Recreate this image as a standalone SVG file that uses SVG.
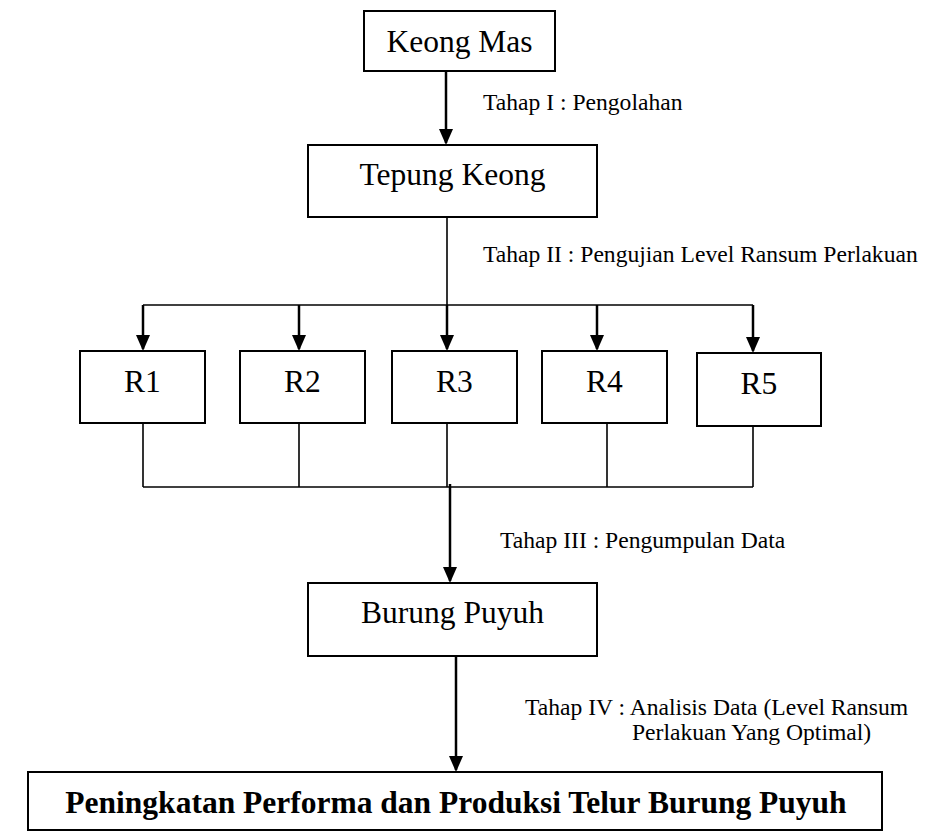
<svg xmlns="http://www.w3.org/2000/svg" width="928" height="832" viewBox="0 0 928 832">
<style>
  .box { fill: #fff; stroke: #000; stroke-width: 2; }
  .node { font-family: "Liberation Serif", "Times New Roman", serif; font-size: 31.5px; fill: #000; text-anchor: middle; }
  .bold { font-weight: bold; }
  .lbl { font-family: "Liberation Serif", "Times New Roman", serif; font-size: 23.6px; fill: #000; }
  .arr { stroke: #000; stroke-width: 2.5; fill: none; marker-end: url(#ah); }
  .ln { stroke: #000; stroke-width: 1.6; fill: none; }
</style>
<defs>
  <marker id="ah" markerUnits="userSpaceOnUse" viewBox="0 0 16 14" refX="14" refY="7" markerWidth="16" markerHeight="14" orient="auto">
    <path d="M0,0 L16,7 L0,14 z" fill="#000"/>
  </marker>
</defs>
<rect width="928" height="832" fill="#fff"/>

<g id="connectors">
  <line class="arr" x1="446" y1="71" x2="446" y2="143"/>
  <line class="ln" x1="447" y1="217" x2="447" y2="305"/>
  <line class="ln" x1="143" y1="305" x2="753" y2="305"/>
  <line class="arr" x1="143" y1="305" x2="143" y2="349"/>
  <line class="arr" x1="299" y1="305" x2="299" y2="349"/>
  <line class="arr" x1="447" y1="305" x2="447" y2="349"/>
  <line class="arr" x1="597" y1="305" x2="597" y2="349"/>
  <line class="arr" x1="753" y1="305" x2="753" y2="351"/>
  <line class="ln" x1="143" y1="423" x2="143" y2="487"/>
  <line class="ln" x1="299" y1="423" x2="299" y2="487"/>
  <line class="ln" x1="447" y1="423" x2="447" y2="487"/>
  <line class="ln" x1="607" y1="423" x2="607" y2="487"/>
  <line class="ln" x1="753" y1="426" x2="753" y2="487"/>
  <line class="ln" x1="143" y1="487" x2="753" y2="487"/>
  <line class="arr" x1="450" y1="484" x2="450" y2="581"/>
  <line class="arr" x1="456" y1="656" x2="456" y2="770"/>
</g>

<g id="label-tahap1"><text class="lbl" x="483" y="110">Tahap I : Pengolahan</text></g>
<g id="label-tahap2"><text class="lbl" x="483" y="262">Tahap II : Pengujian Level Ransum Perlakuan</text></g>
<g id="label-tahap3"><text class="lbl" x="500" y="548">Tahap III : Pengumpulan Data</text></g>
<g id="label-tahap4">
  <text class="lbl" x="525" y="715">Tahap IV : Analisis Data (Level Ransum</text>
  <text class="lbl" x="632" y="740">Perlakuan Yang Optimal)</text>
</g>

<g id="keong-mas">
  <rect class="box" x="364" y="11" width="191" height="60"/>
  <text class="node" x="459.5" y="52">Keong Mas</text>
</g>
<g id="tepung-keong">
  <rect class="box" x="308" y="145" width="289" height="72"/>
  <text class="node" x="452.5" y="185">Tepung Keong</text>
</g>
<g id="r1">
  <rect class="box" x="80" y="351" width="125" height="72"/>
  <text class="node" x="142.5" y="392">R1</text>
</g>
<g id="r2">
  <rect class="box" x="240" y="351" width="125" height="72"/>
  <text class="node" x="302.5" y="392">R2</text>
</g>
<g id="r3">
  <rect class="box" x="392" y="351" width="125" height="72"/>
  <text class="node" x="454.5" y="392">R3</text>
</g>
<g id="r4">
  <rect class="box" x="542" y="351" width="125" height="72"/>
  <text class="node" x="604.5" y="392">R4</text>
</g>
<g id="r5">
  <rect class="box" x="697" y="353" width="124" height="73"/>
  <text class="node" x="759" y="394">R5</text>
</g>
<g id="burung-puyuh">
  <rect class="box" x="308" y="583" width="289" height="73"/>
  <text class="node" x="452.5" y="623">Burung Puyuh</text>
</g>
<g id="peningkatan">
  <rect class="box" x="28" y="772" width="854" height="58"/>
  <text class="node bold" x="456" y="813">Peningkatan Performa dan Produksi Telur Burung Puyuh</text>
</g>
</svg>
